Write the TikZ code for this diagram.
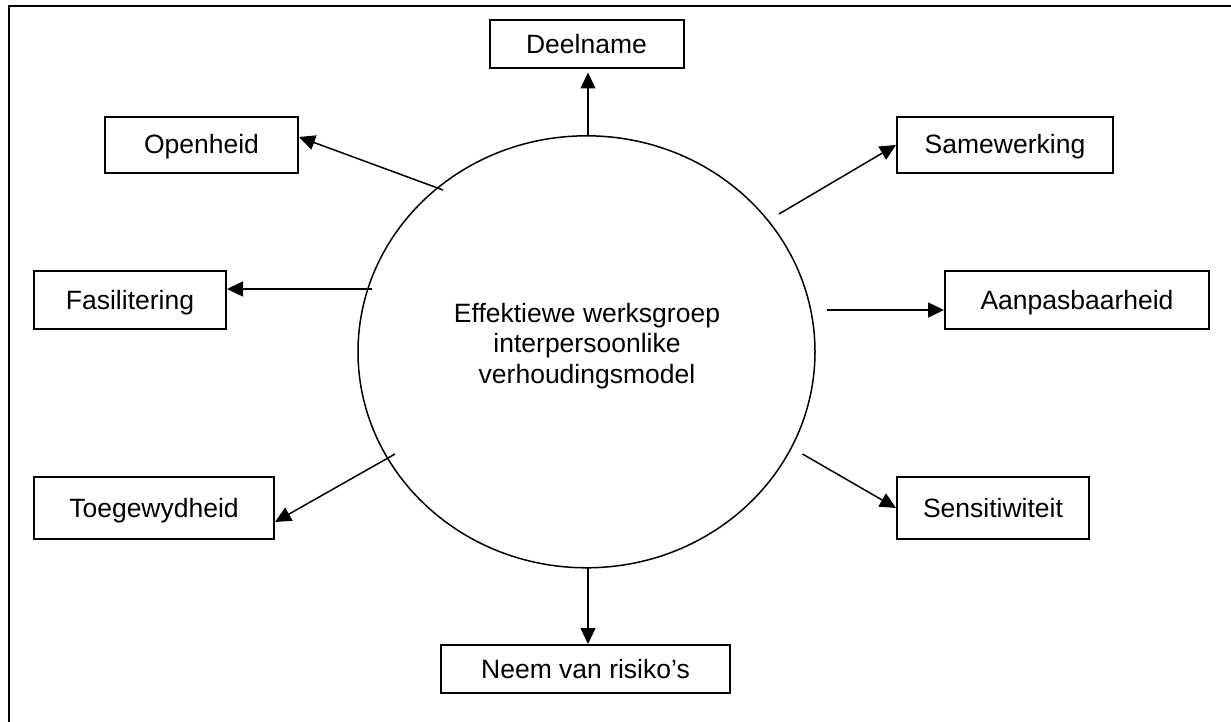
\documentclass[tikz,border=0pt]{standalone}
\usepackage{fontspec}
\setmainfont{Liberation Sans}
\usetikzlibrary{arrows.meta,shapes.geometric}
\begin{document}
\begin{tikzpicture}[x=1pt,y=-1pt,
  every node/.style={font=\fontsize{26.5}{30.5}\selectfont},
  box/.style={draw, line width=2pt, inner sep=0pt, text height=21pt, text depth=3pt},
  arr/.style={line width=1.5pt, -{Triangle[length=16pt,width=15pt]}}]
\useasboundingbox (0,0) rectangle (1231,722);
% frame (top and left edges only)
\draw[line width=2pt] (9,722) -- (9,6) -- (1231,6);
% central ellipse
\node[draw, ellipse, line width=1.5pt, minimum width=457pt, minimum height=432pt, inner sep=0pt] (core) at (586.5,351.8) {};
\node[align=center, inner sep=0pt] (coretext) at (587,346) {Effektiewe werksgroep\\interpersoonlike\\verhoudingsmodel};
% boxes
\node[box, minimum width=194pt, minimum height=48pt] (deel) at (586.5,44.5) {Deelname};
\node[box, minimum width=193pt, minimum height=56pt] (open) at (201.5,145) {Openheid};
\node[box, minimum width=216pt, minimum height=56pt] (same) at (1005,145) {Samewerking};
\node[box, minimum width=192pt, minimum height=58pt] (fasi) at (130,300) {Fasilitering};
\node[box, minimum width=264pt, minimum height=58pt] (aanp) at (1077,300) {Aanpasbaarheid};
\node[box, minimum width=240pt, minimum height=62pt] (toeg) at (154,508) {Toegewydheid};
\node[box, minimum width=192pt, minimum height=62pt] (sens) at (993,508) {Sensitiwiteit};
\node[box, minimum width=289pt, minimum height=48pt] (neem) at (585.5,669) {Neem van risiko’s};
% arrow start points
\coordinate (sD) at (588,136);
\coordinate (sO) at (443,190);
\coordinate (sS) at (779,214);
\coordinate (sF) at (371.5,289);
\coordinate (sA) at (827,310);
\coordinate (sT) at (395,454);
\coordinate (sE) at (802.5,454);
\coordinate (sN) at (588,568);
% arrows
\draw[arr] (sD) -- ([yshift=-3pt]sD |- deel.south);
\draw[arr] (sO) -- ([yshift=8pt]open.east);
\draw[arr] (sS) -- (same.west);
\draw[arr] (sF) -- ([yshift=11pt]fasi.east);
\draw[arr] (sA) -- ([yshift=-10pt]aanp.west);
\draw[arr] (sT) -- ([yshift=-14pt]toeg.east);
\draw[arr] (sE) -- (sens.west);
\draw[arr] (sN) -- (sN |- neem.north);
\end{tikzpicture}
\end{document}
